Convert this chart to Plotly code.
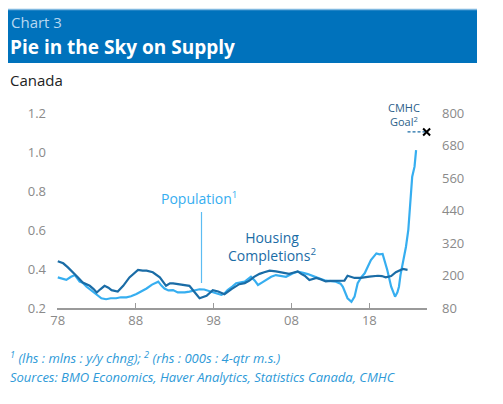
import plotly.graph_objects as go

# Population growth, lhs (mlns : y/y chng)
pop_years = [1978.0, 1978.6, 1979.1, 1979.7, 1980.2, 1980.8, 1981.2, 1981.7, 1982.3, 1983.0,
             1983.6, 1984.2, 1984.8, 1985.5, 1986.1, 1986.8, 1987.4, 1988.1, 1988.7, 1989.4,
             1990.1, 1990.9, 1991.3, 1991.7, 1992.2, 1992.8, 1993.4, 1994.3, 1994.9, 1995.5,
             1996.2, 1996.8, 1997.3, 1998.3, 1999.0, 1999.4, 1999.8, 2000.4, 2000.9, 2002.0,
             2002.8, 2003.3, 2003.7, 2004.2, 2004.8, 2005.4, 2006.0, 2006.6, 2007.3, 2008.2,
             2008.8, 2009.5, 2010.1, 2011.2, 2012.4, 2013.7, 2014.3, 2014.6, 2015.0, 2015.2,
             2015.7, 2016.1, 2016.5, 2017.0, 2017.4, 2017.8, 2018.2, 2018.9, 2019.3, 2019.7,
             2020.0, 2020.3, 2020.8, 2021.3, 2021.6, 2021.8, 2022.0, 2022.3, 2022.7, 2023.0,
             2023.3, 2023.5, 2023.8, 2024.0]
pop_values = [0.357, 0.350, 0.344, 0.360, 0.369, 0.335, 0.330, 0.309, 0.290, 0.267,
              0.250, 0.245, 0.250, 0.250, 0.255, 0.255, 0.260, 0.272, 0.285, 0.300,
              0.320, 0.335, 0.315, 0.300, 0.290, 0.292, 0.280, 0.280, 0.284, 0.290,
              0.296, 0.295, 0.289, 0.278, 0.267, 0.275, 0.292, 0.310, 0.327, 0.335,
              0.360, 0.340, 0.318, 0.330, 0.344, 0.360, 0.369, 0.365, 0.360, 0.378,
              0.386, 0.380, 0.374, 0.357, 0.340, 0.335, 0.325, 0.309, 0.270, 0.250,
              0.232, 0.258, 0.327, 0.360, 0.378, 0.410, 0.446, 0.480, 0.475, 0.477,
              0.440, 0.395, 0.309, 0.258, 0.280, 0.309, 0.370, 0.429, 0.514, 0.600,
              0.754, 0.873, 0.925, 1.010]

# Housing completions, rhs (000s : 4-qtr m.s.)
hc_years = [1978.0, 1978.7, 1979.3, 1980.0, 1980.6, 1981.2, 1982.1, 1982.6, 1983.0, 1983.5,
            1984.0, 1984.5, 1984.9, 1985.7, 1986.4, 1987.2, 1987.8, 1988.3, 1988.9, 1989.4,
            1990.2, 1991.1, 1991.9, 1992.4, 1992.8, 1993.6, 1994.3, 1994.9, 1995.6, 1996.2,
            1997.1, 1997.9, 1998.6, 1999.4, 2000.3, 2001.3, 2002.0, 2002.6, 2003.2, 2003.9,
            2004.5, 2005.2, 2006.0, 2006.5, 2007.1, 2007.7, 2008.2, 2008.8, 2009.3, 2009.7,
            2010.3, 2011.2, 2011.8, 2012.4, 2013.0, 2013.7, 2014.3, 2014.8, 2015.2, 2015.6,
            2016.1, 2016.9, 2017.5, 2018.0, 2019.1, 2019.6, 2020.1, 2020.8, 2021.4, 2021.9,
            2022.3, 2022.9]
hc_values = [253, 245, 230, 212, 193, 174, 162, 150, 137, 150,
             162, 155, 146, 141, 162, 193, 210, 221, 218, 218,
             212, 193, 162, 171, 171, 168, 165, 162, 137, 116,
             125, 146, 141, 131, 150, 168, 172, 181, 195, 206,
             212, 218, 215, 212, 210, 206, 210, 215, 205, 199,
             183, 191, 185, 178, 180, 181, 182, 181, 199, 195,
             191, 191, 194, 196, 199, 198, 193, 198, 212, 218,
             224, 221]

# CMHC goal (000s per year), drawn at the right edge
goal_years = [2022.9, 2025.35]
goal_value = 730

x_tickvals = [1978, 1988, 1998, 2008, 2018]
x_ticktext = ["78", "88", "98", "08", "18"]
left_ticks = [0.2, 0.4, 0.6, 0.8, 1.0, 1.2]
right_ticks = [80, 200, 320, 440, 560, 680, 800]

LIGHT = "#36aef0"
DARK = "#1a6ca6"
GREY = "#8a8a8a"
FONT = "Open Sans"

# page body has an 8px margin, so the figure sits at (8, 8) in the window
OFF = 8
W, H = 487, 388
L, T = 57 - OFF, 113 - OFF
R = W - (427 - OFF)
B = H - (308 - OFF)


def px(x, y):
    # window pixel position -> paper coords
    x, y = x - OFF, y - OFF
    return (x - L) / (W - L - R), (H - B - y) / (H - T - B)


fig = go.Figure()
fig.add_trace(go.Scatter(x=pop_years, y=pop_values, mode="lines",
                         line=dict(color=LIGHT, width=2.2), name="Population"))
fig.add_trace(go.Scatter(x=hc_years, y=hc_values, mode="lines", yaxis="y2",
                         line=dict(color=DARK, width=2.2), name="Housing Completions"))
fig.add_trace(go.Scatter(x=goal_years, y=[goal_value, goal_value], mode="lines", yaxis="y2",
                         line=dict(color=DARK, width=1.2, dash="3px,2px"),
                         cliponaxis=False))
fig.add_trace(go.Scatter(x=goal_years[1:], y=[goal_value], mode="markers", yaxis="y2",
                         marker=dict(symbol="x-thin", size=7, color="black",
                                     line=dict(color="black", width=2)),
                         cliponaxis=False))

shapes = []
x0, y0 = px(5, 63)
x1, y1 = px(477, 9.5)
shapes.append(dict(type="rect", xref="paper", yref="paper", x0=x0, y0=y0, x1=x1, y1=y1,
                   fillcolor="#0072bc", line=dict(width=0), layer="below"))
x0, y0 = px(5, 9.5)
x1, _ = px(477, 9.5)
shapes.append(dict(type="line", xref="paper", yref="paper", x0=x0, y0=y0, x1=x1, y1=y0,
                   line=dict(color="#7fb8e0", width=1.5)))
lx, ly0 = px(201.5, 212)
_, ly1 = px(201.5, 283)
shapes.append(dict(type="line", xref="paper", yref="paper", x0=lx, y0=ly0, x1=lx, y1=ly1,
                   line=dict(color="#5cbcf2", width=1.2)))


def note(x, y, text, size, color, xanchor="left", bold=False, italic=False):
    ax, ay = px(x, y)
    if bold:
        text = "<b>" + text + "</b>"
    if italic:
        text = "<i>" + text + "</i>"
    return dict(xref="paper", yref="paper", x=ax, y=ay, text=text, showarrow=False,
                xanchor=xanchor, yanchor="middle", align="center",
                font=dict(family=FONT, size=size, color=color))


annotations = [
    note(9, 22, "Chart 3", 15, "#b8d8f0"),
    note(8, 47, "Pie in the Sky on Supply", 19, "white", bold=True),
    note(8, 80, "Canada", 15, "#222222"),
    note(199, 198, "Population<sup>1</sup>", 14, LIGHT, xanchor="center"),
    note(272, 246, "Housing<br>Completions<sup>2</sup>", 14, DARK, xanchor="center"),
    note(404, 114, "CMHC<br>Goal<sup>2</sup>", 11, "#2c5f8a", xanchor="center"),
    note(8, 357, "<sup>1</sup> (lhs : mlns : y/y chng); <sup>2</sup> (rhs : 000s : 4-qtr m.s.)",
         13, "#2e9ad8", italic=True),
    note(8, 377, "Sources: BMO Economics, Haver Analytics, Statistics Canada, CMHC",
         13, "#2e9ad8", italic=True),
]

fig.update_layout(
    width=W, height=H,
    margin=dict(l=L, r=R, t=T, b=B, pad=0),
    paper_bgcolor="white", plot_bgcolor="white",
    showlegend=False,
    font=dict(family=FONT, color=GREY, size=13),
    shapes=shapes,
    annotations=annotations,
    xaxis=dict(range=[1977.9, 2025.4], tickvals=x_tickvals, ticktext=x_ticktext,
               showgrid=False, zeroline=False, showline=True, linecolor="#9a9a9a",
               linewidth=1.5, ticks="inside", ticklen=5, tickcolor="#9a9a9a",
               tickfont=dict(size=13, color=GREY)),
    yaxis=dict(range=[0.2, 1.2], tickvals=left_ticks, tickformat=".1f",
               showgrid=False, zeroline=False, showline=False,
               ticklabelstandoff=10, tickfont=dict(size=13, color=GREY)),
    yaxis2=dict(range=[80, 800], tickvals=right_ticks, overlaying="y", side="right",
                showgrid=False, zeroline=False, showline=False,
                ticklabelstandoff=14, tickfont=dict(size=13, color=GREY)),
)

fig.write_html("out.html")
